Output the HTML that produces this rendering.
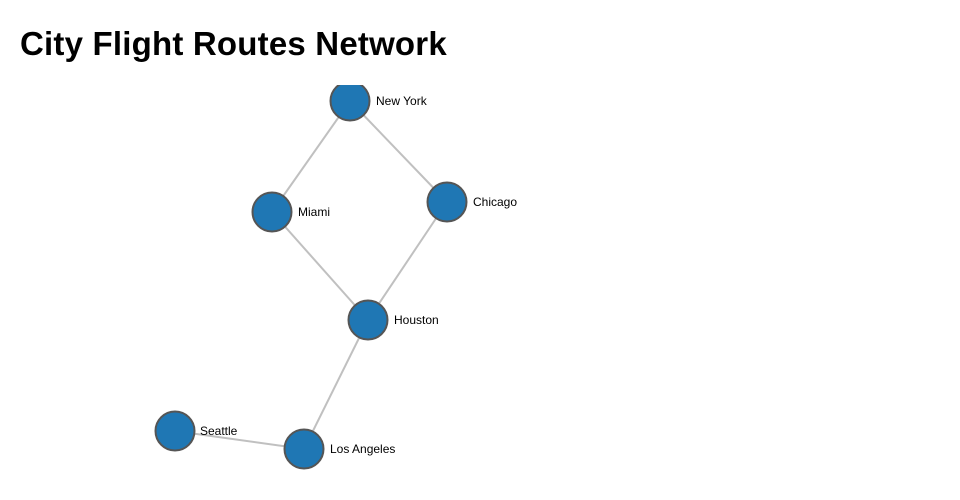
<!DOCTYPE html>
<html><head><style>
body{margin:0;width:960px;height:500px;background:#fff;overflow:hidden;font-family:"Liberation Sans",sans-serif}
h1{position:absolute;left:20px;top:25px;margin:0;font-size:33px;font-weight:bold;color:#000;letter-spacing:0.2px}
svg{position:absolute;left:0;top:85px}
text{font-family:"Liberation Sans",sans-serif;font-size:12px;fill:#000}
</style></head><body>
<h1>City Flight Routes Network</h1>
<svg width="960" height="415" viewBox="0 85 960 415">
<g stroke="#c0c0c0" stroke-width="2">
<line x1="350" y1="101" x2="272" y2="212"/>
<line x1="350" y1="101" x2="447" y2="202"/>
<line x1="272" y1="212" x2="368" y2="320"/>
<line x1="447" y1="202" x2="368" y2="320"/>
<line x1="368" y1="320" x2="304" y2="449"/>
<line x1="175" y1="431" x2="304" y2="449"/>
</g>
<g fill="#1f77b4" stroke="#555" stroke-width="2">
<circle cx="350" cy="101" r="19.5"/>
<circle cx="272" cy="212" r="19.5"/>
<circle cx="447" cy="202" r="19.5"/>
<circle cx="368" cy="320" r="19.5"/>
<circle cx="175" cy="431" r="19.5"/>
<circle cx="304" cy="449" r="19.5"/>
</g>
<text x="376" y="105">New York</text>
<text x="298" y="216">Miami</text>
<text x="473" y="206">Chicago</text>
<text x="394" y="324">Houston</text>
<text x="200" y="435">Seattle</text>
<text x="330" y="453">Los Angeles</text>
</svg>
</body></html>
